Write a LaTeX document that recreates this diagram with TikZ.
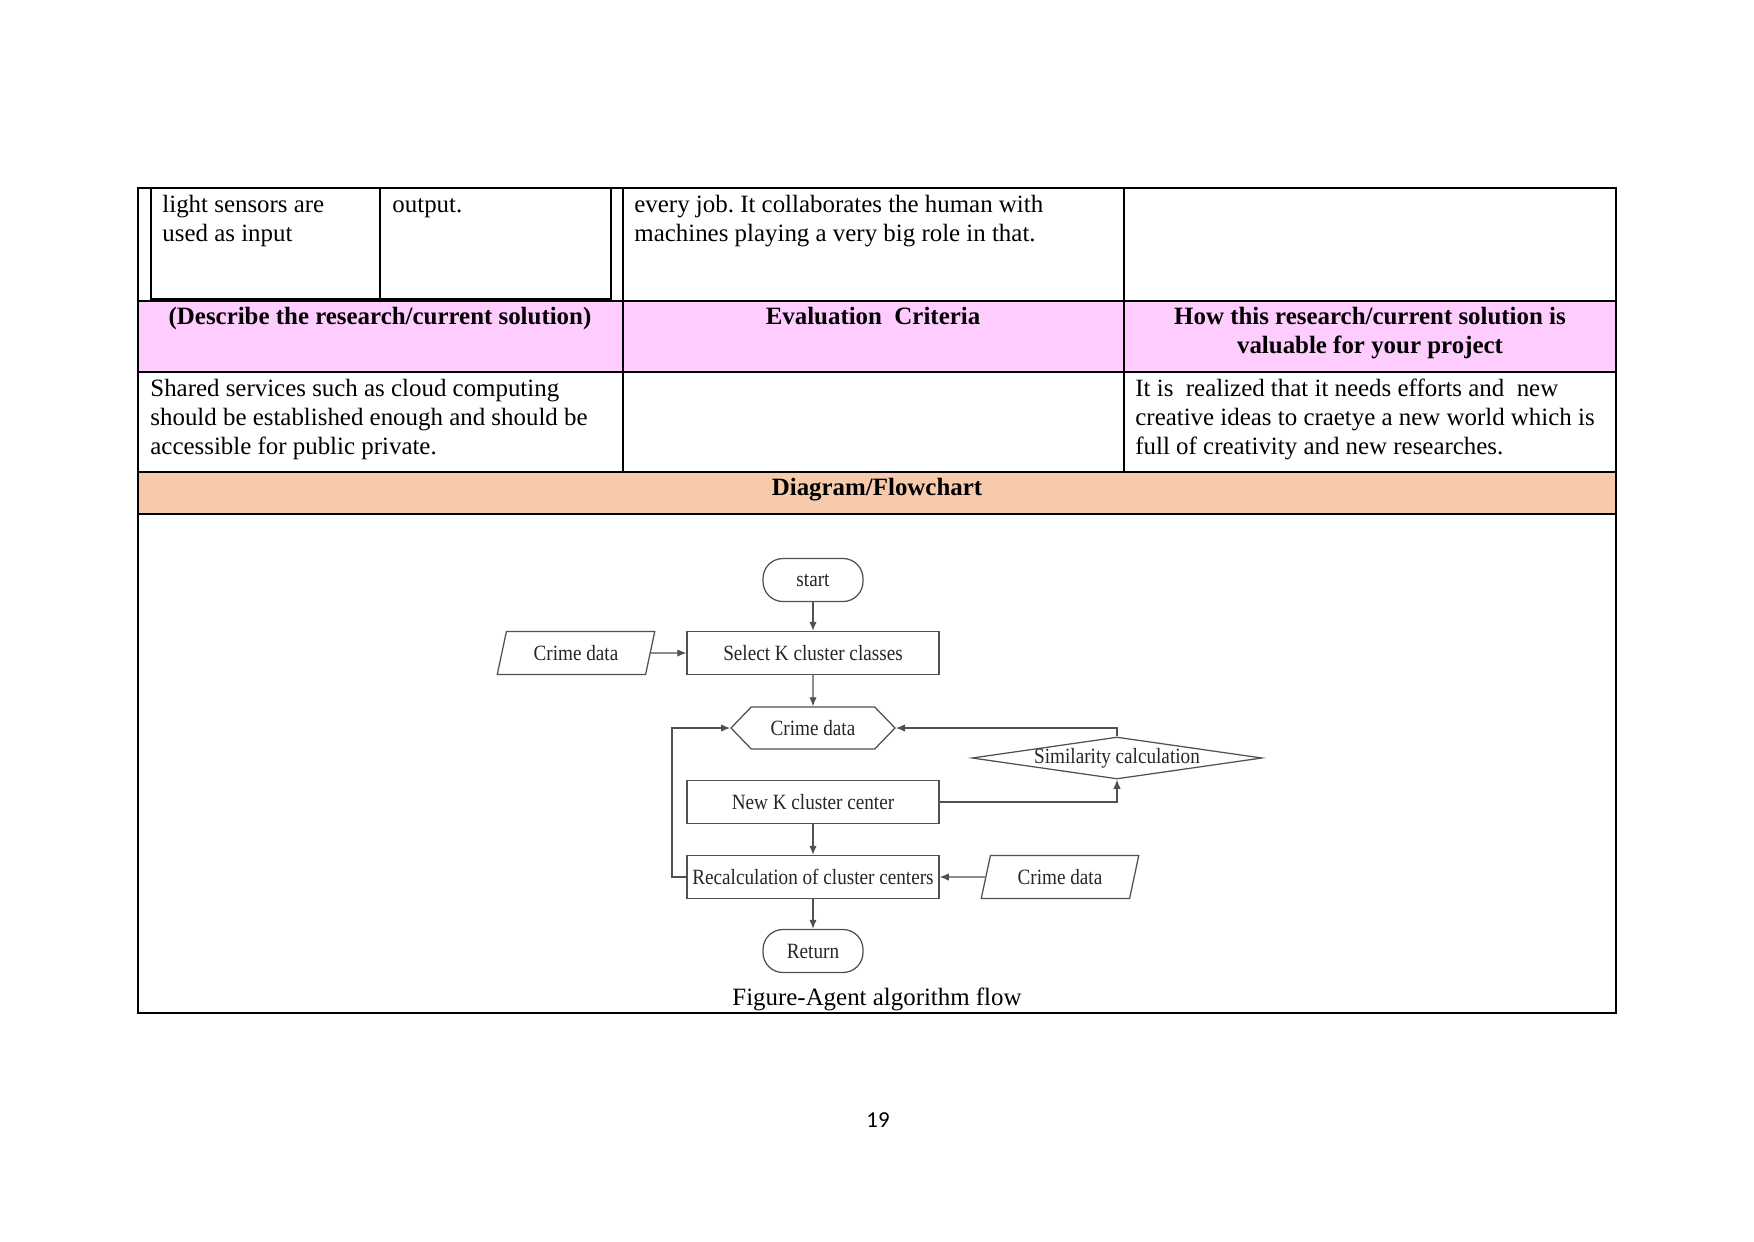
\documentclass[tikz,border=0pt]{standalone}
\usepackage{fontspec}
\setmainfont{Liberation Serif}
\newfontfamily\flowfont[FakeStretch=0.88]{Liberation Serif}
\newfontfamily\pagefont{Carlito}
\usetikzlibrary{arrows.meta,shapes.geometric,shapes.symbols}
\definecolor{headpink}{RGB}{255,204,255}
\definecolor{headorange}{RGB}{247,202,172}
\definecolor{flowgray}{RGB}{80,80,80}
\def\pxu{0.16933mm}
\frenchspacing

\begin{document}
\begin{tikzpicture}[x=0.16933mm, y=-0.16933mm,
    celltxt/.style={inner sep=0pt, align=left, anchor=north west, font=\fontsize{12}{13.9}\selectfont},
    headtxt/.style={inner sep=0pt, align=center, font=\fontsize{12}{13.9}\selectfont\bfseries},
    flowshape/.style={draw=flowgray, line width=0.6pt, inner sep=0pt, text=black!85,
        font=\flowfont\fontsize{10.5}{12}\selectfont},
    flowbox/.style={flowshape, rectangle, minimum width=252*\pxu, minimum height=43*\pxu},
    termbox/.style={flowshape, rectangle, rounded corners=20*\pxu, minimum width=100*\pxu, minimum height=43*\pxu},
    iobox/.style={flowshape, trapezium, trapezium left angle=70, trapezium right angle=110,
        trapezium stretches=true, minimum width=158*\pxu, minimum height=43*\pxu},
    prepbox/.style={flowshape, signal, signal to=east and west, signal pointer angle=92,
        minimum width=164*\pxu, minimum height=42*\pxu},
    decbox/.style={flowshape, diamond, aspect=6.9, inner sep=-1.5pt, minimum width=290*\pxu, minimum height=42*\pxu},
    flowarrow/.style={draw=flowgray, line width=0.6pt, -{Latex[length=4.4pt,width=3.6pt]}}]

    % Page
    \useasboundingbox (0,0) rectangle (1754,1241);
    \fill[white] (0,0) rectangle (1754,1241);

    % Shaded rows
    \fill[headpink] (138,301) rectangle (1616,372);
    \fill[headorange] (138,472) rectangle (1616,514);

    % Table rules
    \draw[line width=0.6pt] (138,188) rectangle (1616,1013);
    \draw[line width=0.5pt] (138,301) -- (1616,301);
    \draw[line width=0.5pt] (138,372) -- (1616,372);
    \draw[line width=0.5pt] (138,472) -- (1616,472);
    \draw[line width=0.5pt] (138,514) -- (1616,514);
    \draw[line width=0.5pt] (623,188) -- (623,472);
    \draw[line width=0.5pt] (1124,188) -- (1124,472);

    % Nested table in first row
    \draw[line width=0.5pt] (151,188) -- (151,299) -- (611,299) -- (611,188);
    \draw[line width=0.5pt] (380,188) -- (380,299);

    % Cell texts
    \node[celltxt] (sensors) at (162,195) {light sensors are\\used as input};
    \node[celltxt, anchor=base west] (output) at (392,212) {output.};
    \node[celltxt] (everyjob) at (634,195) {every job. It collaborates the human with\\machines playing a very big role in that.};
    \node[headtxt, anchor=base] (describe) at (380,324) {(Describe the research/current solution)};
    \node[headtxt, anchor=base] (criteria) at (873,324) {Evaluation\ \ Criteria};
    \node[headtxt, anchor=north] (valuable) at (1370,307) {How this research/current solution is\\valuable for your project};
    \node[celltxt] (shared) at (150,379) {Shared services such as cloud computing\\should be established enough and should be\\accessible for public private.};
    \node[celltxt] (realized) at (1135,379) {It is\ \ realized that it needs efforts and\ \ new\\creative ideas to craetye a new world which is\\full of creativity and new researches.};
    \node[headtxt, anchor=base] (diagram) at (877,495) {Diagram/Flowchart};

    % Flowchart nodes
    \node[termbox] (start) at (813,580) {start};
    \node[flowbox] (select) at (813,653) {Select K cluster classes};
    \node[iobox] (crimein) at (576,653) {Crime data};
    \node[prepbox] (crimedata) at (813,728) {Crime data};
    \node[decbox] (simcalc) at (1117,758) {Similarity calculation};
    \node[flowbox] (newk) at (813,802) {New K cluster center};
    \node[flowbox] (recalc) at (813,877) {Recalculation of cluster centers};
    \node[iobox] (crimeload) at (1060,877) {Crime data};
    \node[termbox] (return) at (813,951) {Return};
    \coordinate (loopback) at (672,877);

    % Flowchart connectors
    \draw[flowarrow] (start) -- (select);
    \draw[flowarrow] (crimein) -- (select);
    \draw[flowarrow] (select) -- (crimedata);
    \draw[flowarrow] (simcalc.north) |- (crimedata.east);
    \draw[flowarrow] (newk.east) -| (simcalc.south);
    \draw[flowarrow] (newk) -- (recalc);
    \draw[flowarrow] (crimeload) -- (recalc);
    \draw[flowarrow] (recalc.west) -- (loopback) |- (crimedata.west);
    \draw[flowarrow] (recalc) -- (return);

    % Caption and page number
    \node[anchor=base, inner sep=0pt, font=\fontsize{12}{13.9}\selectfont] (caption) at (877,1005) {Figure-Agent algorithm flow};
    \node[anchor=base, inner sep=0pt, font=\pagefont\fontsize{11}{13}\selectfont] (pagenum) at (878,1127) {19};
\end{tikzpicture}
\end{document}
